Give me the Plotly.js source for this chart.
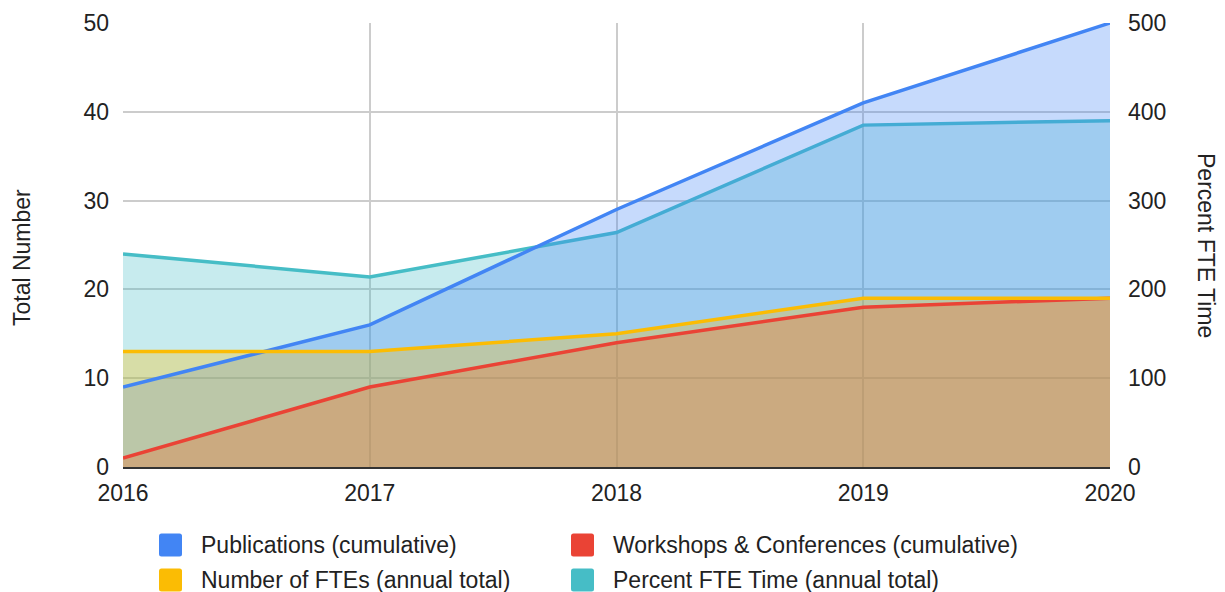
<!DOCTYPE html>
<html>
<head>
<meta charset="utf-8">
<script src="https://cdn.plot.ly/plotly-3.0.1.min.js"></script>
<style>html,body{margin:0;padding:0;background:#fff;}#chart{width:1225px;height:592px;}</style>
</head>
<body>
<div id="chart"></div>
<script>
const years = [2016, 2017, 2018, 2019, 2020];
const publications = [9, 16, 29, 41, 50];
const workshops = [1, 9, 14, 18, 19];
const ftes = [13, 13, 15, 19, 19];
const percentFte = [240, 214, 264, 385, 390];
const leftTicks = [0, 10, 20, 30, 40, 50];
const rightTicks = [0, 100, 200, 300, 400, 500];

const names = {
  pub: 'Publications (cumulative)',
  ws: 'Workshops &amp; Conferences (cumulative)',
  fte: 'Number of FTEs (annual total)',
  pct: 'Percent FTE Time (annual total)'
};
const colors = {pub: '#4285F4', ws: '#EA4335', fte: '#FBBC04', pct: '#46BDC6'};
const fills = {
  pub: 'rgba(66,133,244,0.3)',
  ws: 'rgba(234,67,53,0.3)',
  fte: 'rgba(251,188,4,0.3)',
  pct: 'rgba(70,189,198,0.3)'
};

function area(y, key, axis) {
  return {x: years, y: y, yaxis: axis, type: 'scatter', mode: 'lines', fill: 'tozeroy',
    fillcolor: fills[key], line: {width: 0, color: colors[key]}, showlegend: false, hoverinfo: 'skip'};
}
function line(y, key, axis) {
  return {x: years, y: y, yaxis: axis, type: 'scatter', mode: 'lines',
    line: {width: 3.5, color: colors[key]}, showlegend: false, name: names[key]};
}

const data = [
  area(percentFte, 'pct', 'y'),
  line(percentFte, 'pct', 'y'),
  area(publications, 'pub', 'y2'),
  area(workshops, 'ws', 'y2'),
  area(ftes, 'fte', 'y2'),
  line(publications, 'pub', 'y2'),
  line(workshops, 'ws', 'y2'),
  line(ftes, 'fte', 'y2')
];

// plot area in pixels
const PL = 123, PR = 1110, PT = 23, PB = 467;
const px = v => (v - PL) / (PR - PL);
const py = v => (PB - v) / (PB - PT);

const FONT = 'Liberation Sans, Arial, sans-serif';
const tickFont = {family: FONT, size: 23, color: '#222'};

// manual legend (square swatches)
const legendEntries = [
  {key: 'pub', sx: 159, tx: 199, cy: 545},
  {key: 'ws', sx: 571, tx: 611, cy: 545},
  {key: 'fte', sx: 159, tx: 199, cy: 580},
  {key: 'pct', sx: 571, tx: 611, cy: 580}
];
function roundedSquare(x0, cy, s, r) {
  const y0 = cy - s / 2, x1 = x0 + s, y1 = cy + s / 2;
  const P = (x, y) => px(x) + ',' + py(y);
  return 'M' + P(x0 + r, y0) + ' L' + P(x1 - r, y0) + ' Q' + P(x1, y0) + ' ' + P(x1, y0 + r) +
    ' L' + P(x1, y1 - r) + ' Q' + P(x1, y1) + ' ' + P(x1 - r, y1) +
    ' L' + P(x0 + r, y1) + ' Q' + P(x0, y1) + ' ' + P(x0, y1 - r) +
    ' L' + P(x0, y0 + r) + ' Q' + P(x0, y0) + ' ' + P(x0 + r, y0) + ' Z';
}
const shapes = legendEntries.map(e => ({type: 'path', xref: 'paper', yref: 'paper',
  path: roundedSquare(e.sx, e.cy, 23, 2.5), fillcolor: colors[e.key], line: {width: 0}}));
const annotations = legendEntries.map(e => ({text: names[e.key], xref: 'paper', yref: 'paper',
  x: px(e.tx), y: py(e.cy), xanchor: 'left', yanchor: 'middle', showarrow: false,
  font: {family: FONT, size: 23, color: '#222'}}));
annotations.push(
  {text: 'Total Number', xref: 'paper', yref: 'paper', x: px(22), y: py(258), textangle: -90,
    xanchor: 'center', yanchor: 'middle', showarrow: false, font: {family: FONT, size: 23, color: '#222'}},
  {text: 'Percent FTE Time', xref: 'paper', yref: 'paper', x: px(1206), y: py(245), textangle: 90,
    xanchor: 'center', yanchor: 'middle', showarrow: false, font: {family: FONT, size: 23, color: '#222'}}
);

const layout = {
  width: 1225, height: 592,
  margin: {l: PL, r: 1225 - PR, t: PT, b: 592 - PB, autoexpand: false},
  paper_bgcolor: '#fff', plot_bgcolor: '#fff',
  showlegend: false,
  xaxis: {range: [2016, 2020], tickvals: years, ticktext: years.map(String), showgrid: true,
    gridcolor: '#cccccc', gridwidth: 2, zeroline: false, showline: true, linecolor: '#333', linewidth: 1.5,
    tickfont: tickFont, ticks: '', ticklabelstandoff: 5, fixedrange: true, automargin: false},
  yaxis: {range: [0, 500], side: 'right', tickvals: rightTicks, showgrid: false,
    zeroline: false, tickfont: tickFont, ticks: '', ticklabelstandoff: 17, fixedrange: true, automargin: false},
  yaxis2: {range: [0, 50], side: 'left', overlaying: 'y', tickvals: leftTicks, showgrid: true,
    gridcolor: '#cccccc', gridwidth: 2, zeroline: false, tickfont: tickFont, ticks: '', ticklabelstandoff: 13,
    fixedrange: true, automargin: false},
  shapes: shapes,
  annotations: annotations
};

Plotly.newPlot('chart', data, layout, {displayModeBar: false, staticPlot: true});
</script>
</body>
</html>
